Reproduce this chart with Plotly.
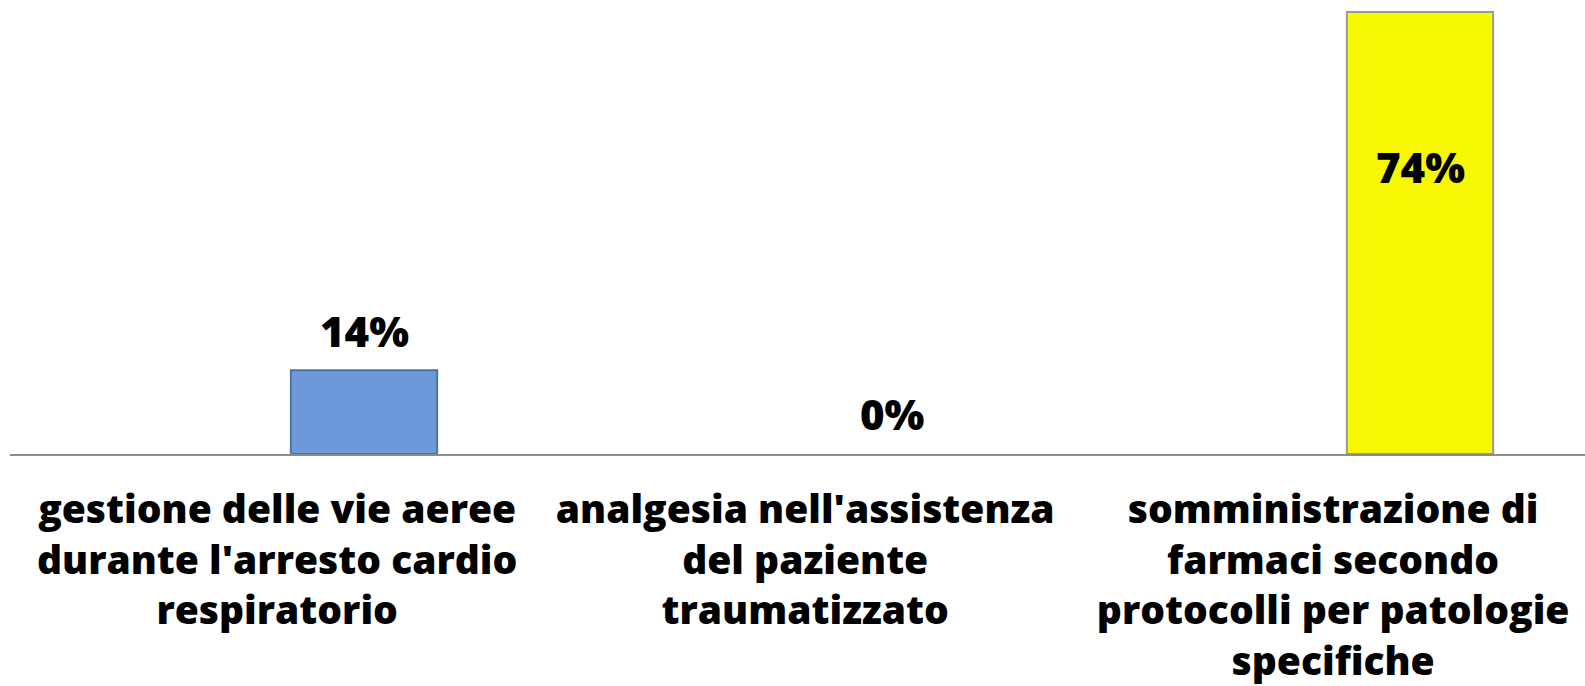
import plotly.graph_objects as go

categories = [
    "gestione delle vie aeree<br>durante l'arresto cardio<br>respiratorio",
    "analgesia nell'assistenza<br>del paziente<br>traumatizzato",
    "somministrazione di<br>farmaci secondo<br>protocolli per patologie<br>specifiche",
]
values = [14, 0, 74]
labels = ["14%", "0%", "74%"]
bar_colors = ["#6C99DA", "#6C99DA", "#F7F700"]
edge_colors = ["#50729F", "#50729F", "#9A9A9A"]
edge_widths = [2, 0, 2]
label_shift = [40, 41, -155]

FONT = "Open Sans"
BAR_W = 0.277
BAR_OFF = 0.026
xs = list(range(len(categories)))

fig = go.Figure()
fig.add_trace(go.Bar(
    x=xs, y=values,
    width=BAR_W, offset=BAR_OFF,
    marker=dict(color=bar_colors, line=dict(color=edge_colors, width=edge_widths)),
    hoverinfo="skip",
))

for i, (v, t, s) in enumerate(zip(values, labels, label_shift)):
    fig.add_annotation(
        x=i + BAR_OFF + BAR_W / 2, y=v, text=t, showarrow=False,
        yanchor="middle", yshift=s,
        font=dict(family=FONT, size=42, color="black", weight=800),
    )

fig.update_layout(
    width=1585, height=686,
    margin=dict(l=10, r=0, t=0, b=232),
    paper_bgcolor="white", plot_bgcolor="white",
    showlegend=False,
    xaxis=dict(
        range=[-0.506, 2.477], tickvals=xs, ticktext=categories,
        showline=True, linecolor="#8C8C8C", linewidth=2,
        showgrid=False, zeroline=False, ticks="",
        automargin=False,
        ticklabelstandoff=20,
        tickfont=dict(family=FONT, size=39, color="black", weight=800),
        tickangle=0,
    ),
    yaxis=dict(range=[0, 76], visible=False, showgrid=False, zeroline=False,
               automargin=False),
)

fig.write_html("out.html", config={"displayModeBar": False},
               post_script="document.body.style.margin='0';")
